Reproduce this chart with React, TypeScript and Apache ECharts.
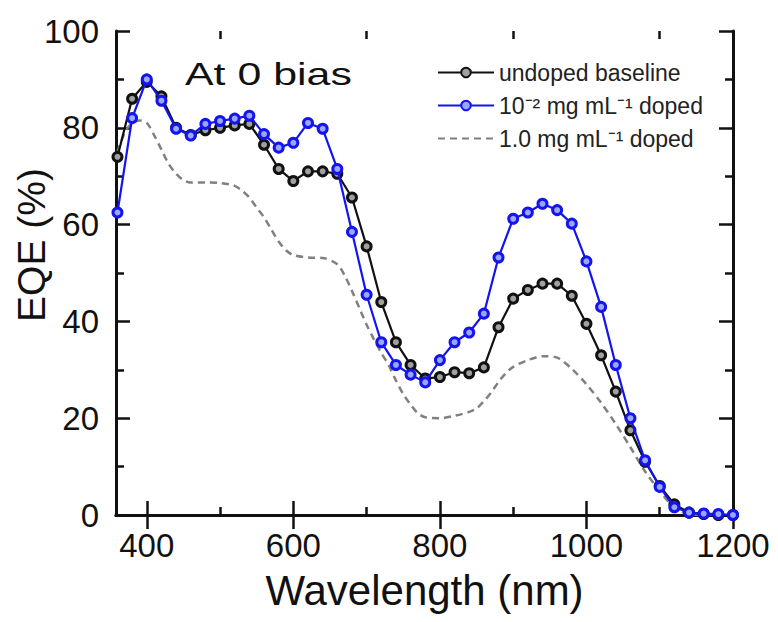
import { useEffect, useRef } from 'react';
import * as echarts from 'echarts';

// Wavelength sampling of the measured curves (nm)
const wavelengths = [
  360, 380, 400, 420, 440, 460, 480, 500, 520, 540, 560, 580, 600, 620, 640, 660, 680, 700, 720, 740, 760, 780,
  800, 820, 840, 860, 880, 900, 920, 940, 960, 980, 1000, 1020, 1040, 1060, 1080, 1100, 1120, 1140, 1160, 1180, 1200,
];

// EQE (%) — undoped baseline
const undoped = [
  74, 86, 89.5, 86.5, 80, 78.5, 79.5, 80, 80.5, 80.8, 76.5, 71.5, 69, 71, 71, 70.5, 65.6, 55.5, 44, 35.7, 31, 28.2,
  28.5, 29.5, 29.3, 30.5, 38.8, 44.7, 46.5, 47.8, 47.8, 45.3, 39.5, 33, 25.5, 17.5, 11, 6, 2.2, 0.5, 0.2, 0, 0,
];

// EQE (%) — 10^-2 mg/mL doped
const dopedLow = [
  62.5, 82, 90, 85.6, 79.8, 78.4, 80.8, 81.4, 81.9, 82.5, 78.7, 75.9, 76.9, 81, 79.8, 71.5, 58.5, 45.5, 35.7, 31, 29,
  27.4, 32, 35.7, 37.7, 41.6, 53.2, 61.2, 62.5, 64.3, 63, 60.2, 52.4, 43, 31, 20, 11.3, 5.8, 1.6, 0.5, 0.3, 0.2, 0,
];

// EQE (%) — 1.0 mg/mL doped (dashed, no markers)
const dashedWavelengths = [
  360, 370, 380, 390, 400, 410, 420, 430, 440, 450, 460, 480, 500, 520, 530, 540, 550, 560, 570, 580, 590, 600, 620,
  640, 660, 670, 680, 690, 700, 710, 720, 730, 740, 750, 760, 770, 780, 800, 820, 840, 850, 860, 870, 880, 890, 900,
  920, 940, 960, 980, 1000, 1020, 1040, 1060, 1080, 1100, 1120, 1140, 1160, 1180, 1200,
];
const dopedHigh = [
  75, 79, 81, 81.5, 81, 78.5, 75.5, 72.5, 70.5, 69.2, 68.7, 68.7, 68.6, 68, 67, 65.6, 63.5, 61.5, 59, 56.5, 54.7, 53.7,
  53.2, 53.1, 51.8, 49.5, 46.3, 42.8, 39.3, 36.3, 33.5, 31, 27.8, 25, 22.8, 21, 20.2, 20, 20.5, 21.3, 22, 23.5, 25.3,
  27.5, 29.3, 30.6, 32, 32.8, 32.5, 30.2, 27, 23.2, 18.8, 14, 9, 5, 1.5, 0.2, 0, 0, 0,
];

const seriesNames = ['undoped baseline', '10⁻² mg mL⁻¹ doped', '1.0 mg mL⁻¹ doped'];
const xMajorTicks = [400, 600, 800, 1000, 1200];
const xMinorTicks = [500, 700, 900, 1100];

const FONT = '"Liberation Sans", Arial, Helvetica, sans-serif';
const INK = '#111';
const BLUE = '#1414ee';
const GREY = '#808080';

const zip = (xs: number[], ys: number[]) => xs.map((x, i) => [x, ys[i]]);

export default function App() {
  const ref = useRef<HTMLDivElement>(null);
  useEffect(() => {
    if (!ref.current) return;
    const chart = echarts.init(ref.current, null, { renderer: 'svg' });

    const xCommon = {
      type: 'value',
      min: 358,
      max: 1200,
      splitLine: { show: false },
      minorSplitLine: { show: false },
    };
    const tickStyle = { color: INK, width: 2.5 };

    const option: any = {
      animation: false,
      backgroundColor: '#fff',
      grid: { left: 116, top: 31, right: 45, bottom: 107, containLabel: false, outerBoundsMode: 'none' },
      legend: {
        orient: 'vertical',
        left: 432,
        top: 56,
        itemWidth: 56,
        itemHeight: 12,
        itemGap: 10,
        data: [
          { name: seriesNames[0] },
          { name: seriesNames[1] },
          { name: seriesNames[2], itemStyle: { opacity: 0 } },
        ],
        textStyle: { fontFamily: FONT, fontSize: 23, color: '#222' },
      },
      xAxis: [
        {
          ...xCommon,
          position: 'bottom',
          axisLine: { show: true, lineStyle: { color: INK, width: 3 } },
          axisTick: { show: true, inside: true, length: 14, lineStyle: tickStyle, customValues: xMajorTicks },
          axisLabel: {
            show: true,
            customValues: xMajorTicks,
            formatter: (v: number) => String(v),
            margin: 14,
            fontFamily: FONT,
            fontSize: 33,
            color: INK,
          },
          name: 'Wavelength (nm)',
          nameLocation: 'middle',
          nameGap: 54,
          nameMoveOverlap: false,
          nameTextStyle: { fontFamily: FONT, fontSize: 42, color: INK },
        },
        {
          ...xCommon,
          position: 'top',
          axisLine: { show: true, lineStyle: { color: INK, width: 3 } },
          axisTick: { show: true, inside: true, length: 14, lineStyle: tickStyle, customValues: xMajorTicks },
          axisLabel: { show: false },
        },
        {
          ...xCommon,
          position: 'bottom',
          axisLine: { show: false },
          axisTick: { show: true, inside: true, length: 8, lineStyle: tickStyle, customValues: xMinorTicks },
          axisLabel: { show: false },
        },
        {
          ...xCommon,
          position: 'top',
          axisLine: { show: false },
          axisTick: { show: true, inside: true, length: 8, lineStyle: tickStyle, customValues: xMinorTicks },
          axisLabel: { show: false },
        },
      ],
      yAxis: [
        {
          type: 'value',
          position: 'left',
          min: 0,
          max: 100,
          interval: 20,
          splitLine: { show: false },
          axisLine: { show: true, lineStyle: { color: INK, width: 3 } },
          axisTick: { show: true, inside: true, length: 14, lineStyle: tickStyle },
          minorTick: { show: true, splitNumber: 2, length: 8, lineStyle: tickStyle },
          minorSplitLine: { show: false },
          axisLabel: { margin: 17, fontFamily: FONT, fontSize: 33, color: INK },
          name: 'EQE (%)',
          nameLocation: 'middle',
          nameGap: 65,
          nameMoveOverlap: false,
          nameTextStyle: { fontFamily: FONT, fontSize: 39, color: INK, padding: [0, 0, 0, 56] },
        },
        {
          type: 'value',
          position: 'right',
          min: 0,
          max: 100,
          interval: 20,
          splitLine: { show: false },
          axisLine: { show: true, lineStyle: { color: INK, width: 3 } },
          axisTick: { show: true, inside: true, length: 14, lineStyle: tickStyle },
          minorTick: { show: true, splitNumber: 2, length: 8, lineStyle: tickStyle },
          minorSplitLine: { show: false },
          axisLabel: { show: false },
        },
      ],
      graphic: [
        {
          type: 'text',
          x: 185,
          y: 74,
          scaleX: 1.34,
          style: {
            text: 'At 0 bias',
            fontFamily: FONT,
            fontSize: 32,
            fill: INK,
            align: 'left',
            verticalAlign: 'middle',
          },
        },
      ],
      series: [
        {
          name: seriesNames[2],
          type: 'line',
          xAxisIndex: 0,
          yAxisIndex: 0,
          data: zip(dashedWavelengths, dopedHigh),
          smooth: 0.3,
          showSymbol: false,
          symbol: 'none',
          lineStyle: { color: GREY, width: 2.5, type: [7, 5] },
          itemStyle: { color: GREY },
          z: 2,
        },
        {
          name: seriesNames[0],
          type: 'line',
          xAxisIndex: 0,
          yAxisIndex: 0,
          data: zip(wavelengths, undoped),
          symbol: 'circle',
          symbolSize: 9,
          lineStyle: { color: INK, width: 2.2 },
          itemStyle: { color: '#a0a0a0', borderColor: INK, borderWidth: 3 },
          z: 3,
        },
        {
          name: seriesNames[1],
          type: 'line',
          xAxisIndex: 0,
          yAxisIndex: 0,
          data: zip(wavelengths, dopedLow),
          symbol: 'circle',
          symbolSize: 9,
          lineStyle: { color: BLUE, width: 2.2 },
          itemStyle: { color: '#9aa6ff', borderColor: BLUE, borderWidth: 3 },
          z: 4,
        },
      ],
    };
    chart.setOption(option);
    return () => chart.dispose();
  }, []);
  return <div ref={ref} style={{ position: 'fixed', left: 0, top: 0, width: 778, height: 622 }} />;
}
